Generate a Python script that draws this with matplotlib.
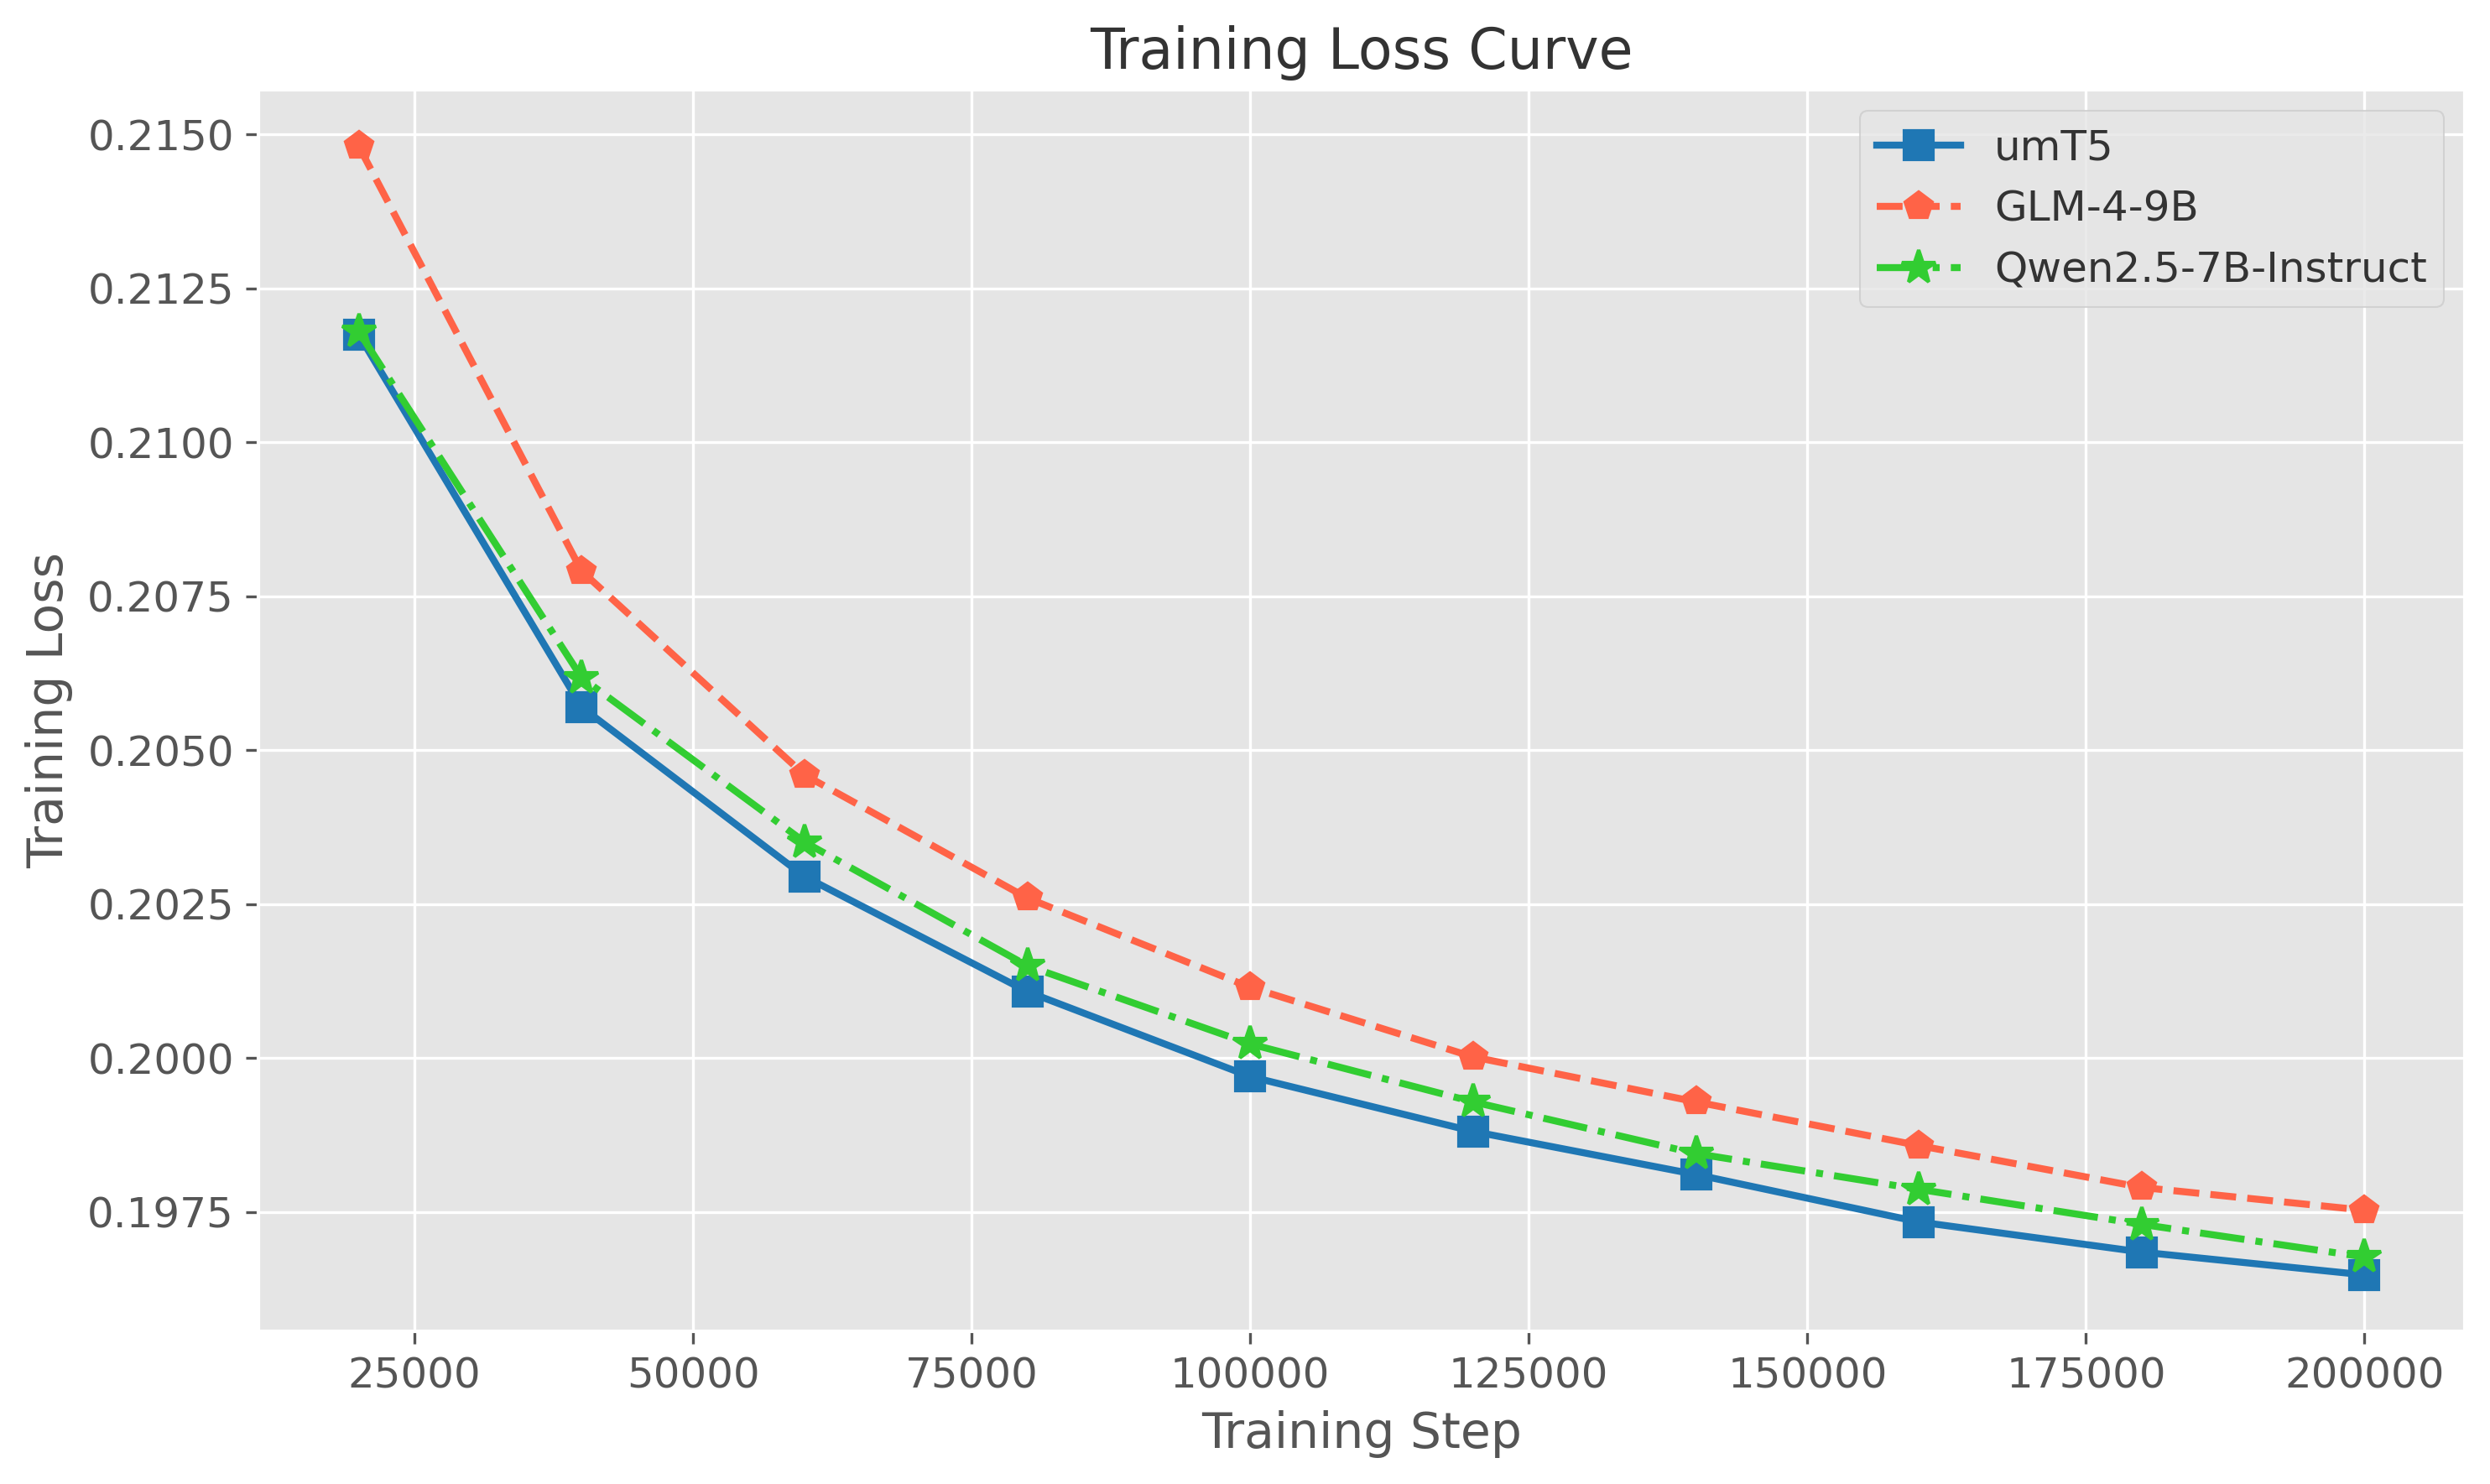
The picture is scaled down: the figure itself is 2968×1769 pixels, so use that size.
import matplotlib
matplotlib.use("Agg")
import matplotlib.pyplot as plt

# ---------- data ----------
steps = [20000, 40000, 60000, 80000, 100000, 120000, 140000, 160000, 180000, 200000]
umt5_loss = [0.21175, 0.2057, 0.20295, 0.20108, 0.1997, 0.19881, 0.19811, 0.19734, 0.19685, 0.19648]
glm_loss = [0.21481, 0.20791, 0.2046, 0.2026, 0.20115, 0.20002, 0.19929, 0.19858, 0.1979, 0.19753]
qwen_loss = [0.2118, 0.20618, 0.20351, 0.2015, 0.20023, 0.19929, 0.19845, 0.19787, 0.1973, 0.19677]

# label, values, colour, linestyle, marker, markersize
series = [
    ("umT5", umt5_loss, "#1f77b4", "-", "s", 8),
    ("GLM-4-9B", glm_loss, "#FF6347", "--", "p", 8),
    ("Qwen2.5-7B-Instruct", qwen_loss, "#32CD32", "-.", "*", 10),
]

# ---------- plot ----------
plt.style.use("ggplot")
plt.rcParams["text.color"] = "#333333"
fig = plt.figure(figsize=(2968 / 300, 1769 / 300), dpi=300)
ax = fig.add_subplot(111)
fig.subplots_adjust(left=0.1038, right=0.9899, top=0.9395, bottom=0.1029)

for label, vals, color, ls, mk, ms in series:
    ax.plot(steps, vals, linestyle=ls, marker=mk, color=color,
            linewidth=2, markersize=ms, label=label)

ax.set_title("Training Loss Curve", fontsize=16, color="#333333")
ax.set_xlabel("Training Step", fontsize=14)
ax.set_ylabel("Training Loss", fontsize=14)
ax.tick_params(axis="both", labelsize=12)
ax.legend(fontsize=12, loc="upper right")

fig.savefig("out.png", dpi=300)
plt.close(fig)
